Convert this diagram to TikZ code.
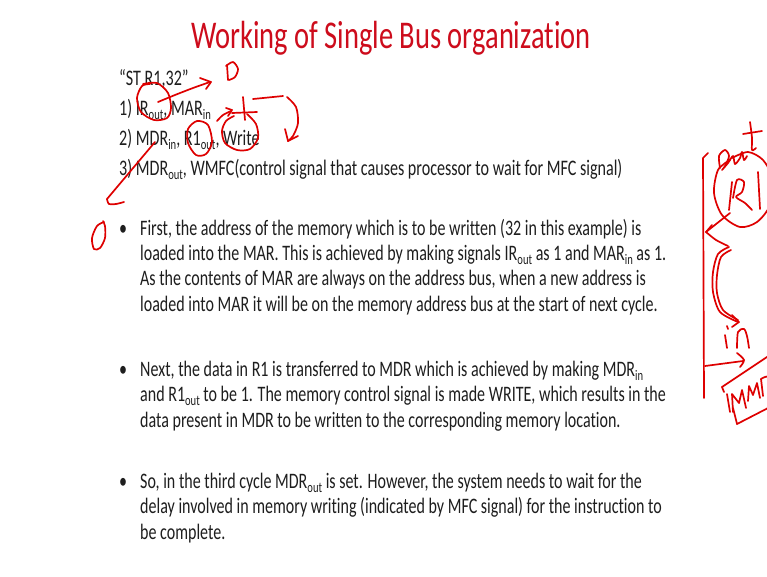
\documentclass[tikz,border=0pt]{standalone}
\usepackage{fontspec}
\setmainfont{Carlito}[FakeStretch=0.725,RawFeature={-liga}]
\definecolor{titlered}{RGB}{205,12,28}
\definecolor{ink}{RGB}{222,0,0}
\definecolor{txt}{RGB}{30,30,30}
\newcommand\sbs[1]{\raisebox{-4.5pt}{\fontsize{14.6}{14.6}\selectfont #1}}
\begin{document}
\begin{tikzpicture}[x=1pt,y=-1pt,
  body/.style={anchor=base west, inner sep=0pt, text=txt, font=\fontsize{22.1}{26}\selectfont},
  liststyle/.style={anchor=base west, inner sep=0pt, text=txt, font=\fontsize{22.2}{26}\selectfont},
  titlestyle/.style={anchor=base, inner sep=0pt, text=titlered, font=\fontsize{39.3}{44}\selectfont},
  hw/.style={draw=ink, line width=1.7pt, line cap=round, line join=round}]
\useasboundingbox (0,0) rectangle (767,576);
\fill[white] (0,0) rectangle (767,576);

\node[titlestyle] (title) at (391,48) {Working of Single Bus organization};

\node[liststyle] (l0) at (119,85) {“ST R1,32”};
\node[liststyle] (l1) at (119,115) {1) IR\sbs{out}, MAR\sbs{in}};
\node[liststyle] (l2) at (119,145) {2) MDR\sbs{in}, R1\sbs{out}, Write};
\node[liststyle] (l3) at (119,175) {3) MDR\sbs{out}, WMFC(control signal that causes processor to wait for MFC signal)};

\node[body] (b1) at (119,235) {•};
\node[body] (a1) at (140,235) {First, the address of the memory which is to be written (32 in this example) is};
\node[body] (a2) at (140,260) {loaded into the MAR. This is achieved by making signals IR\sbs{out} as 1 and MAR\sbs{in} as 1.};
\node[body] (a3) at (140,285) {As the contents of MAR are always on the address bus, when a new address is};
\node[body] (a4) at (140,311) {loaded into MAR it will be on the memory address bus at the start of next cycle.};

\node[body] (b2) at (119,376) {•};
\node[body] (c1) at (140,376) {Next, the data in R1 is transferred to MDR which is achieved by making MDR\sbs{in}};
\node[body] (c2) at (140,401) {and R1\sbs{out} to be 1. The memory control signal is made WRITE, which results in the};
\node[body] (c3) at (140,427) {data present in MDR to be written to the corresponding memory location.};

\node[body] (b3) at (119,488) {•};
\node[body] (d1) at (140,488) {So, in the third cycle MDR\sbs{out} is set. However, the system needs to wait for the};
\node[body] (d2) at (140,513) {delay involved in memory writing (indicated by MFC signal) for the instruction to};
\node[body] (d3) at (140,539) {be complete.};

\begin{scope}
\clip (0,0) rectangle (767,576);
% D mark
\draw[hw] (227,65) -- (228,80);
\draw[hw] plot[smooth] coordinates {(226,66) (233,62) (238,69) (235,77) (229,80)};
% circle IR_out and arrow
\draw[hw] plot[smooth] coordinates {(143,84) (157,83) (168,93) (171,108) (167,118) (154,120) (141,112) (137,98) (142,86) (150,84)};
\draw[hw] plot[smooth] coordinates {(158,102) (175,95) (193,88) (210,82)};
\draw[hw] (200,78) -- (211,82) -- (206,89);
% stroke to plus
\draw[hw] plot[smooth] coordinates {(217,121) (223,115) (231,111)};
\draw[hw] (226,108) -- (232,110) -- (228,116);
\draw[hw] (243,97) -- (245,120);
\draw[hw] (232,113) -- (257,112);
% horizontal and bent arrow
\draw[hw] (253,99) -- (283,96);
\draw[hw] plot[smooth] coordinates {(287,97) (296,107) (298,123) (293,136) (288,141)};
\draw[hw] (285,129) -- (288,141) -- (298,136);
% circle R1_out
\draw[hw] plot[smooth cycle] coordinates {(197,121) (208,125) (212,142) (206,154) (196,155) (188,143) (188,129)};
% circle Write
\draw[hw] plot[smooth] coordinates {(247,114) (256,124) (258,138) (250,149) (237,150) (225,143) (222,131) (226,121) (234,116)};
% long line
\draw[hw] (155,142) -- (107,199);
\draw[hw] plot[smooth] coordinates {(107,199) (109,204) (116,204) (124,202)};
% 0 mark
\draw[hw] plot[smooth] coordinates {(104,222) (97,226) (92,238) (94,249) (100,248) (105,238) (105,226) (103,221)};

% right side bracket
\draw[hw] (708,153) -- (703,158) -- (704,398);
\draw[hw] (705,366) -- (743,361);
\draw[hw] plot[smooth] coordinates {(737,353) (744,360) (740,367)};
\draw[hw] (730,213) -- (706,232);
\draw[hw] (712,225) -- (706,232);
\draw[hw] plot[smooth] coordinates {(706,232) (716,240) (728,246)};
% R1 circle
\draw[hw] plot[smooth] coordinates {(732,158) (748,152) (763,160) (772,178) (770,205) (757,222) (740,227) (722,215) (714,193) (718,170) (730,160)};
% R
\draw[hw] (732,182) -- (729,210);
\draw[hw] plot[smooth] coordinates {(733,198) (737,180) (744,182) (742,192) (736,197) (745,203) (752,210)};
% 1
\draw[hw] (758,172) -- (760,209);
% out
\draw[hw] plot[smooth] coordinates {(720,168) (719,156) (725,150) (729,156) (725,166) (722,170) (728,163) (733,156) (735,164) (740,158) (742,152) (744,160) (747,156)};
\draw[hw] plot[smooth] coordinates {(750,122) (752,138) (752,150) (756,148)};
\draw[hw] (743,134) -- (762,131);
% C curve
\draw[hw] plot[smooth] coordinates {(729,247) (718,254) (713,272) (713,292) (720,312) (738,322)};
\draw[hw] plot[smooth] coordinates {(731,250) (721,257) (717,275) (717,293) (723,310) (738,320)};
\draw[hw] (732,315) -- (739,322) -- (732,327);
% in
\draw[hw] (725,335) -- (727,348);
\draw[hw] (727,326) -- (728,329);
\draw[hw] plot[smooth] coordinates {(737,348) (738,332) (744,329) (747,336) (749,348)};
% box
\draw[hw] (722,387) -- (770,355);
\draw[hw] (722,387) -- (724,392);
\draw[hw] (733,408) -- (737,424) -- (770,407);
\draw[hw] (727,394) -- (730,412);
\draw[hw] (733,412) -- (732,394) -- (739,403) -- (742,390) -- (746,408);
\draw[hw] (748,401) -- (749,386) -- (753,395) -- (757,383) -- (760,398);
\draw[hw] (761,379) -- (763,396);
\draw[hw] plot[smooth] coordinates {(761,379) (768,377) (769,392)};
\end{scope}
\end{tikzpicture}
\end{document}
